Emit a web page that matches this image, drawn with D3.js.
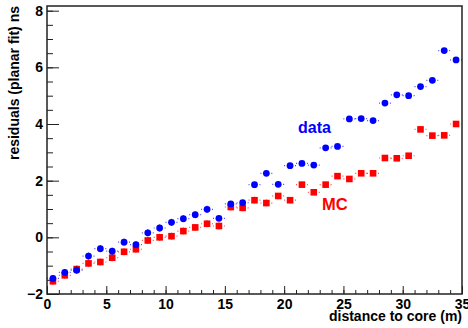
<!DOCTYPE html>
<html>
<head>
<meta charset="utf-8">
<script src="https://cdn.jsdelivr.net/npm/d3@7"></script>
<style>
  body { margin: 0; background: #fff; }
  svg { display: block; font-family: "Liberation Sans", Arial, sans-serif; font-weight: bold; }
</style>
</head>
<body>
<div id="chart-area"></div>
<script>
// bin centres (m)
const distance = [0.5, 1.5, 2.5, 3.5, 4.5, 5.5, 6.5, 7.5, 8.5, 9.5, 10.5, 11.5, 12.5, 13.5, 14.5, 15.5, 16.5,
    17.5, 18.5, 19.5, 20.5, 21.5, 22.5, 23.5, 24.5, 25.5, 26.5, 27.5, 28.5, 29.5, 30.5, 31.5, 32.5, 33.5, 34.5];

const dataVals = [-1.45, -1.24, -1.16, -0.66, -0.40, -0.49, -0.17, -0.26, 0.16, 0.33, 0.53, 0.66, 0.80, 0.99, 0.67,
    1.18, 1.22, 1.86, 2.26, 1.87, 2.53, 2.61, 2.55, 3.16, 3.21, 4.18, 4.19, 4.12, 4.74, 5.03, 5.00, 5.32, 5.54, 6.59, 6.26];
const dataErr = [0.06, 0.06, 0.06, 0.07, 0.07, 0.07, 0.07, 0.08, 0.08, 0.08, 0.09, 0.09, 0.10, 0.10, 0.17,
    0.13, 0.12, 0.12, 0.18, 0.15, 0.18, 0.17, 0.18, 0.20, 0.20, 0.22, 0.22, 0.22, 0.28, 0.28, 0.28, 0.28, 0.30, 0.32, 0.35];

const mcVals = [-1.55, -1.34, -1.12, -0.92, -0.87, -0.72, -0.51, -0.42, -0.11, 0.00, 0.04, 0.22, 0.35, 0.48, 0.40,
    1.07, 1.04, 1.31, 1.21, 1.46, 1.31, 1.86, 1.59, 1.86, 2.16, 2.06, 2.26, 2.26, 2.80, 2.79, 2.88, 3.81, 3.59, 3.60, 4.00];
const mcErr = [0.06, 0.06, 0.06, 0.06, 0.06, 0.07, 0.07, 0.07, 0.07, 0.08, 0.08, 0.08, 0.09, 0.09, 0.09,
    0.10, 0.10, 0.11, 0.11, 0.12, 0.12, 0.13, 0.13, 0.14, 0.15, 0.15, 0.16, 0.16, 0.23, 0.23, 0.24, 0.28, 0.28, 0.30, 0.32];

const xTicks = [0, 5, 10, 15, 20, 25, 30, 35];
const yTicks = [-2, 0, 2, 4, 6, 8];

const width = 468, height = 328;
const margin = {left: 47, right: 6, top: 6, bottom: 34};
const binHalf = 0.5;

const svg = d3.select("#chart-area")
    .append("svg")
    .attr("width", width)
    .attr("height", height);

const x = d3.scaleLinear().domain([0, 35]).range([margin.left, width - margin.right]);
const y = d3.scaleLinear().domain([-2, 8.165]).range([height - margin.bottom, margin.top]);

// minor ticks
svg.append("g")
    .attr("transform", `translate(${margin.left},0)`)
    .call(d3.axisLeft(y).tickValues(d3.range(-2, 8.01, 0.5)).tickSize(-6).tickFormat(""))
    .call(g => g.select(".domain").remove())
    .selectAll("line").attr("stroke", "#222");

svg.append("g")
    .attr("transform", `translate(0,${height - margin.bottom})`)
    .call(d3.axisBottom(x).tickValues(d3.range(0, 35.01, 1)).tickSize(-4).tickFormat(""))
    .call(g => g.select(".domain").remove())
    .selectAll("line").attr("stroke", "#222");

// major ticks + labels
const yAxis = svg.append("g")
    .attr("transform", `translate(${margin.left},0)`)
    .call(d3.axisLeft(y).tickValues(yTicks).tickSize(-12).tickPadding(16).tickFormat(d3.format("d")))
    .call(g => g.select(".domain").remove());
yAxis.selectAll("line").attr("stroke", "#222");
yAxis.selectAll("text")
    .attr("font-family", "Liberation Sans, Arial, sans-serif")
    .attr("font-weight", "bold")
    .attr("font-size", "14px")
    .attr("fill", "#000")
    .attr("x", -4);

const xAxis = svg.append("g")
    .attr("transform", `translate(0,${height - margin.bottom})`)
    .call(d3.axisBottom(x).tickValues(xTicks).tickSize(-8).tickPadding(14).tickFormat(d3.format("d")))
    .call(g => g.select(".domain").remove());
xAxis.selectAll("line").attr("stroke", "#222");
xAxis.selectAll("text")
    .attr("font-family", "Liberation Sans, Arial, sans-serif")
    .attr("font-weight", "bold")
    .attr("font-size", "14px")
    .attr("fill", "#000")
    .attr("y", 5);

// frame
svg.append("rect")
    .attr("x", margin.left)
    .attr("y", margin.top)
    .attr("width", width - margin.left - margin.right)
    .attr("height", height - margin.top - margin.bottom)
    .attr("fill", "none")
    .attr("stroke", "#222")
    .attr("stroke-width", 1.5);

function drawSeries(vals, errs, color, hGap, vGap) {
    const g = svg.append("g");
    const pts = distance.map((d, i) => ({x: d, v: vals[i], e: errs[i]}));

    const bars = g.selectAll("g.bar")
        .data(pts)
        .enter()
        .append("g");

    // horizontal error bars, split around the marker
    bars.append("line")
        .attr("x1", d => x(d.x - binHalf))
        .attr("x2", d => x(d.x) - hGap)
        .attr("y1", d => y(d.v))
        .attr("y2", d => y(d.v));
    bars.append("line")
        .attr("x1", d => x(d.x) + hGap)
        .attr("x2", d => x(d.x + binHalf))
        .attr("y1", d => y(d.v))
        .attr("y2", d => y(d.v));
    // vertical error bars
    bars.append("line")
        .attr("x1", d => x(d.x))
        .attr("x2", d => x(d.x))
        .attr("y1", d => y(d.v + d.e))
        .attr("y2", d => Math.min(y(d.v + d.e), y(d.v) - vGap));
    bars.append("line")
        .attr("x1", d => x(d.x))
        .attr("x2", d => x(d.x))
        .attr("y1", d => Math.max(y(d.v - d.e), y(d.v) + vGap))
        .attr("y2", d => y(d.v - d.e));

    bars.selectAll("line")
        .attr("stroke", color)
        .attr("stroke-width", 1.2)
        .attr("opacity", 0.75);

    return bars;
}

const mcBars = drawSeries(mcVals, mcErr, "#ff0000", 5, 3.5);
mcBars.append("rect")
    .attr("x", d => x(d.x) - 3.3)
    .attr("y", d => y(d.v) - 3.3)
    .attr("width", 6.6)
    .attr("height", 6.6)
    .attr("fill", "#ff0000");

const dataBars = drawSeries(dataVals, dataErr, "#0000ff", 5, 3.5);
dataBars.append("circle")
    .attr("cx", d => x(d.x))
    .attr("cy", d => y(d.v))
    .attr("r", 3.4)
    .attr("fill", "#0000ff");

// labels
svg.append("text")
    .attr("x", 298)
    .attr("y", 133)
    .attr("font-size", "16px")
    .attr("fill", "#0000ff")
    .text("data");

svg.append("text")
    .attr("x", 322)
    .attr("y", 210)
    .attr("font-size", "16.5px")
    .attr("fill", "#ff0000")
    .text("MC");

svg.append("text")
    .attr("x", 462)
    .attr("y", 321)
    .attr("text-anchor", "end")
    .attr("font-size", "14px")
    .attr("fill", "#000")
    .text("distance to core (m)");

svg.append("text")
    .attr("transform", "translate(19,6) rotate(-90)")
    .attr("text-anchor", "end")
    .attr("font-size", "14px")
    .attr("fill", "#000")
    .text("residuals (planar fit) ns");
</script>
</body>
</html>
